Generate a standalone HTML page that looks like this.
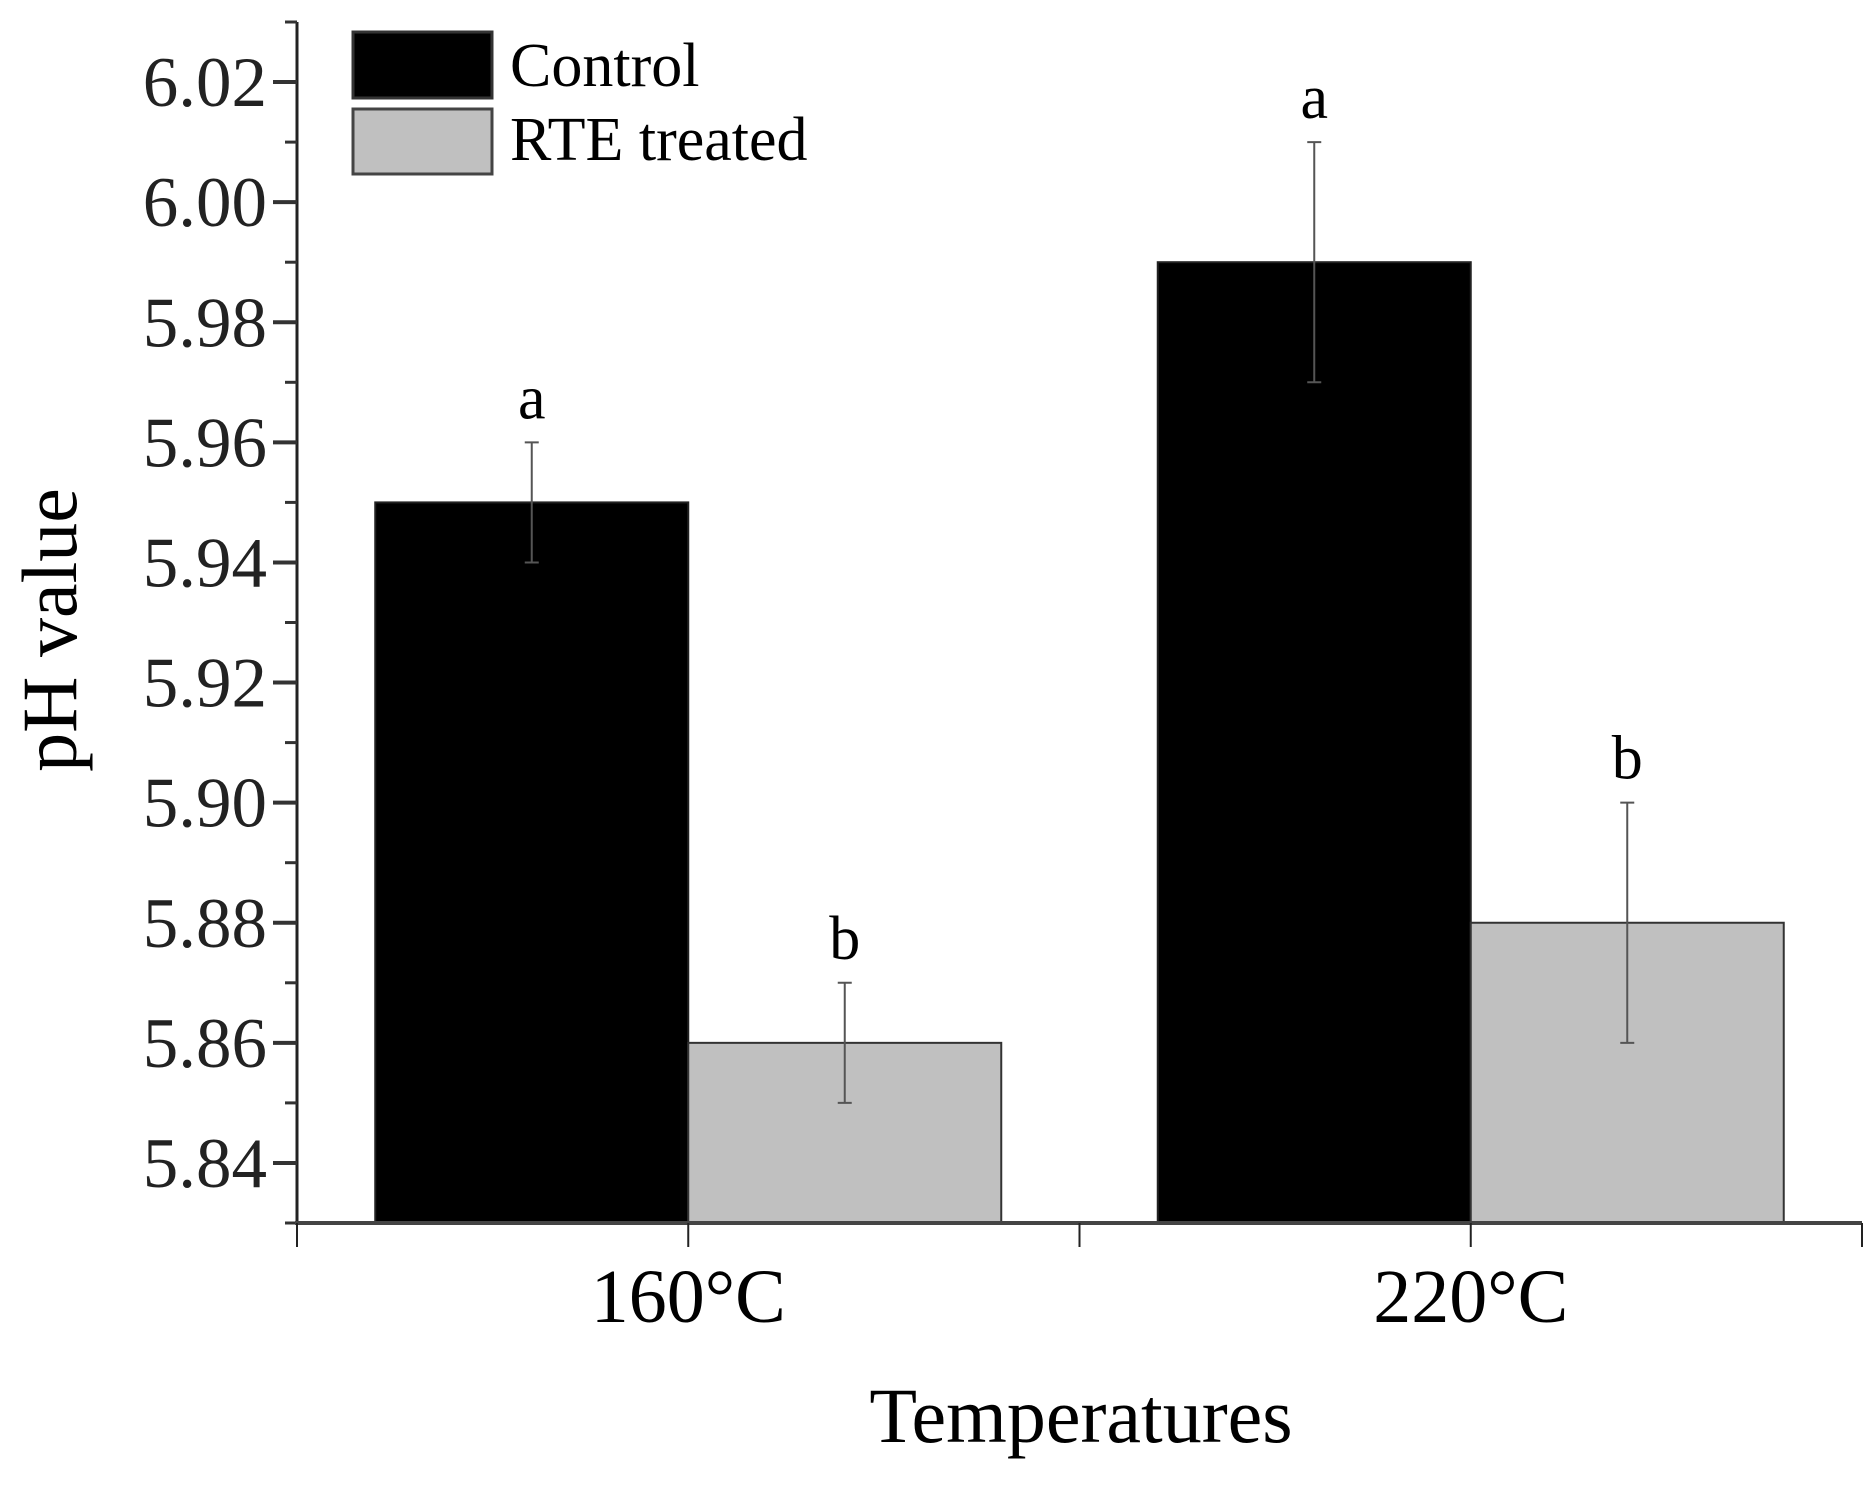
<!DOCTYPE html>
<html><head><meta charset="utf-8"><style>
html,body{margin:0;padding:0;background:#fff;}
svg{display:block;font-family:"Liberation Serif",serif;}
</style></head><body>
<svg id="chart" width="1876" height="1489" viewBox="0 0 1876 1489">
<g id="g"></g>
</svg>
<script>
const categories = ["160°C", "220°C"];
const controlValues = [5.95, 5.99];
const controlErrors = [0.01, 0.02];
const rteValues = [5.86, 5.88];
const rteErrors = [0.01, 0.02];
const letterControl = ["a", "a"];
const letterRte = ["b", "b"];
const yTicks = [5.84, 5.86, 5.88, 5.90, 5.92, 5.94, 5.96, 5.98, 6.00, 6.02];
const yMin = 5.83, yMax = 6.03;

const NS = "http://www.w3.org/2000/svg";
const g = document.getElementById("g");
const L = 297, R = 1862, T = 22, B = 1223;
function y(v){ return B - (v - yMin) / (yMax - yMin) * (B - T); }
function x(c){ return L + (c - 0.5) / 2 * (R - L); }
const bw = 0.4 / 2 * (R - L);
function el(tag, attrs, parent){
  const e = document.createElementNS(NS, tag);
  for (const k in attrs) e.setAttribute(k, attrs[k]);
  (parent || g).appendChild(e);
  return e;
}
function txt(s, attrs){
  const t = el("text", attrs); t.textContent = s; return t;
}
categories.forEach((c, i) => {
  const cx = x(i + 1);
  const b1 = el("rect", {x: cx - bw, y: y(controlValues[i]), width: bw, height: B - y(controlValues[i]), fill: "#000", stroke: "#222", "stroke-width": 2});
  
  
  const b2 = el("rect", {x: cx, y: y(rteValues[i]), width: bw, height: B - y(rteValues[i]), fill: "#c0c0c0", stroke: "#333", "stroke-width": 2});
  
  
  [[cx - bw / 2, controlValues[i], controlErrors[i], letterControl[i]], [cx + bw / 2, rteValues[i], rteErrors[i], letterRte[i]]].forEach((d, j) => {
    const ex = d[0], hi = y(d[1] + d[2]), lo = y(d[1] - d[2]);
    const eb = el("path", {d: `M${ex},${hi}V${lo}M${ex-7},${hi}H${ex+7}M${ex-7},${lo}H${ex+7}`, stroke: "#555", "stroke-width": 2, fill: "none"});
    
    
    const lt = txt(d[3], {x: ex, y: hi - 24, "font-size": 62, "text-anchor": "middle"});
    
    
  });
  const cl = txt(c, {x: cx, y: 1322, "font-size": 76, "text-anchor": "middle"});
  
  
});
const ya = el("line", {x1: L, y1: T, x2: L, y2: B, stroke: "#222", "stroke-width": 3});


yTicks.forEach(v => {
  el("line", {x1: L - 24, y1: y(v), x2: L, y2: y(v), stroke: "#333", "stroke-width": 4});
  const minor = v + 0.01;
  if (minor < yMax) el("line", {x1: L - 12, y1: y(minor), x2: L, y2: y(minor), stroke: "#333", "stroke-width": 3});
  const t = txt(v.toFixed(2), {x: L - 30, y: y(v) + 24, "font-size": 71, "text-anchor": "end", fill: "#222"});
  
  
});
el("line", {x1: L - 12, y1: y(5.83), x2: L, y2: y(5.83), stroke: "#333", "stroke-width": 3});
const xa = el("line", {x1: L - 2, y1: B, x2: R, y2: B, stroke: "#444", "stroke-width": 4});


[0.5, 1, 1.5, 2, 2.5].forEach(c => el("line", {x1: x(c), y1: B, x2: x(c), y2: B + 24, stroke: "#222", "stroke-width": 2}));
const xt = txt("Temperatures", {x: 1081, y: 1442, "font-size": 78, "text-anchor": "middle"});


const yt = txt("pH value", {x: 0, y: 0, "font-size": 78, "text-anchor": "middle", transform: "translate(76,630) rotate(-90)"});


const lg = el("g", {});


el("rect", {x: 353, y: 32, width: 139, height: 66, fill: "#000", stroke: "#333", "stroke-width": 3}, lg);
el("rect", {x: 353, y: 109, width: 139, height: 65, fill: "#c0c0c0", stroke: "#444", "stroke-width": 3}, lg);
const l1 = el("text", {x: 510, y: 86, "font-size": 62}, lg); l1.textContent = "Control";


const l2 = el("text", {x: 510, y: 160, "font-size": 62}, lg); l2.textContent = "RTE treated";


</script>
</body></html>
